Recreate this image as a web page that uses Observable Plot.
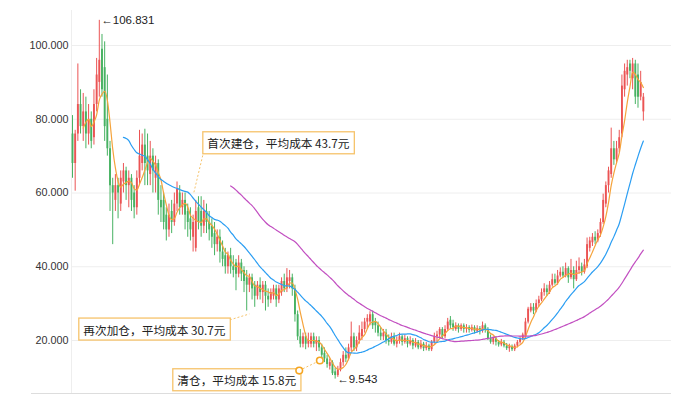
<!DOCTYPE html>
<html>
<head>
<meta charset="utf-8">
<script src="https://cdn.jsdelivr.net/npm/d3@7"></script>
<script src="https://cdn.jsdelivr.net/npm/@observablehq/plot@0.6"></script>
<style>
  html, body { margin: 0; padding: 0; background: #fff; }
  #chart svg { display: block; }
</style>
</head>
<body>
<div id="chart"></div>
<script>
// ---- data (weekly candles) ----
const open = [
  76,68,76,84,78,82,76,80,75,84,
  90,99,94,80,72,62,58,62,57,63,
  66,62,64,60,56,64,68,73,70,65,
  70,64,68,58,58,54,50,55,52,57,
  60,56,58,55,53,48,45,56,55,51,
  55,52,51,49,46,48,44,43,40,43,
  40,41,38,41,39,37,35,37,35,32,
  35,33,35,32,31,32,34,31,33,36,
  34,36,37,34,27,21,19,21,19,19,
  21,19,20,18,16.5,15,13,14,11.5,10.5,
  12,14,16,15,18,21,18,20,21,23,
  25,25,27,25,24,22,21,22,20,19.5,
  21,19,20,21,19.5,20.5,19,20,18.5,19.5,
  18,19,17.8,18.5,17.5,19.5,21,21.5,23,21,
  23,25.5,24.5,23,24,23,24,23,23.5,22.8,
  23.5,22.5,23.2,22.6,24,23,20.5,19.5,20.5,19.5,
  18.8,19.5,18.5,17.8,18.3,17.5,18.5,19.5,20.5,21,
  25,28,29,28,30,31,33,34,33,35,
  36.5,35.5,37.5,38.5,37.5,39.5,37,39,36.5,39,
  40,38.5,40,45,46.5,48,47,49,52,57,
  62,65,72,69,72,76,88,92,95,91,
  95,92,86,82
];
const high = [
  81,77,95,88,87,86,84,82,88,96.5,
  106.831,103,101,92,74,64,65,64,66,68,
  67,66,65,62,66,77,76,77.3,76,74,
  72,70,69,62,60,56,57,58,60,63,
  62,60,60,57,56,54,58,59,59,58,
  57,55,53,52,50,50,47,45,44,45,
  43,42,43,42,40,39,38,38,36,36,
  37,36,36,34,34,35,35,35,37,38,
  39.5,39,38,35,28,23,22,22,22,22,
  22,21,21,19,18,16,15,14.5,12.5,13,
  15,17,18,19,25,22,21,24,25,26,
  27,27.8,28,26,25,23.5,23,23,21.5,22,
  22,21,22,21.5,21.5,21,21,20.5,20.5,20,
  20,19.5,19.5,19,20,22,22.5,23.5,23.5,24,
  26,26.5,25.5,24.8,24.5,24.5,24.5,24.3,24,24.2,
  24,24,23.8,25,24.5,23.5,21.5,21,21,20,
  20.3,20,19.2,19,18.8,19,20,21,22,26,
  29,30,30,31,32,34,35.4,35,36,38,
  38,39,39.7,40,41,40,42,40,41.5,42.4,
  41,42,47.8,48,49,49.5,50,53,59.7,63,
  67,77.6,74,74,77,92,95,96,96,96.5,
  96,95,93,87
];
const low = [
  64,60.5,74,76,74,72,73,72,73,82,
  86,86,74,70,55,46,55,53,55,60,
  58,56,55,53,54,62,66,62,62,62,
  60,60,54,52,50,47,48,49,51,55,
  54,54,50,48,47,44,44,50,48,49,
  49,47,45,43,44,41,40,38,38,38,
  37,33.5,37,36,33,28,33,31,29,31,
  31,30,28,29,30,31,29,30,32,33,
  33,34,32,25,20,18,18,17.5,18,18,
  18,17,17,15,14,12.5,12,10.5,9.543,10,
  11.5,13,14,14.5,17,17,17,19,20,22,
  23,24,23,22,21,20,20,19,18.5,19,
  18.5,18,19,18.5,19,18,18.5,17.5,18,17.5,
  17.5,17,17.2,17,17,19,19.5,20.5,20.5,20.5,
  22.5,23,22.5,22.5,22,22.5,22,22,22,22.3,
  21.8,22,21.5,22,22,20,19,18.8,18.5,18.2,
  18.3,18,17.3,16.8,17,17,18,19,20,20.5,
  24.5,27.5,27,27.5,29,30.5,32,32,32.5,34.5,
  35,35,37,37,37,35.5,36.5,34,36,38,
  37.5,38,39.5,44,45.5,46,46.5,48,51.5,56,
  60,64,67.5,68,71,75,86,89,91,88,
  84,83,85,79.5
];
const close = [
  68,76,84,78,82,76,80,74,84,92,
  96,88,78,72,62,60,62,60,64,66,
  62,64,58,56,64,70,73,68,66,70,
  66,68,58,56,52,50,54,52,57,61,
  56,58,54,52,50,52,55,52,51,55,
  52,50,48,46,48,44,42,40,43,40,
  39,38,41,38,36,35,37,34,32,35,
  33,35,32,31,33,34,31,34,36,34,
  37,37,34,27,21,19,21,19,20,21,
  19,20,18,16,15,13.5,14,11,10.5,12,
  14,16,15,18,21,18,20,22,23,25,
  26,27,24,24,22,21,22,20,19.5,21,
  19,20,21,19.5,20.5,19,20,18.5,19.5,18,
  19,17.8,18.5,17.5,19.5,21,21.5,23,21,23,
  25,24,23.5,24,23,24,23,23.5,22.8,23.5,
  22.5,23.2,22.6,24,23,20.5,19.5,20.5,19.5,18.8,
  19.5,18.5,17.8,18.3,17.5,18.5,19.5,20.5,21.5,25,
  28.5,29,28,30,31,33,34,33,35,36.5,
  35.5,37.5,38.5,37.5,39.5,37,39,36.5,39,40,
  38.5,40.5,46,47,48,47,49,52,58,62,
  66,72,69,72,75,89,93,94,93,95,
  86,86,90,86
];
const yTicks = [20, 40, 60, 80, 100];
const maPeriods = [5, 20, 60];

// annotations: label text, label anchor (candle index, price), connector ends
const noteText = ["首次建仓，平均成本 43.7元", "再次加仓，平均成本 30.7元", "清仓，平均成本 15.8元"];
const noteLabelAt = [[50.3, 73.15], [4.03, 22.63], [39.1, 8.88]];
const noteLinks = [[48.6, 70.2, 45.3, 60.2], [58.7, 25.6, 66.0, 27.2], [84.6, 11.86, 92.3, 14.58]];
const noteDots = [[84.6, 11.86], [92.3, 14.58]];

// ---- styles ----
const UP = "#eb5454", DOWN = "#47b262";
const maColors = ["#f5a33b", "#2b9ef3", "#c24fc1"];
const NOTE = "#f6c36b";

const idx = d3.range(close.length);
const candles = idx.map(i => ({i, open: open[i], high: high[i], low: low[i], close: close[i]}));
const col = d => d.close >= d.open ? UP : DOWN;
const iMax = d3.maxIndex(high), iMin = d3.minIndex(low);

const chart = Plot.plot({
  width: 699, height: 408,
  marginLeft: 31, marginRight: 28, marginTop: 10, marginBottom: 15,
  x: {domain: [-15.3, 223.5], axis: null},
  y: {domain: [5.63, 109.5], axis: null},
  style: {fontFamily: "'Liberation Sans', Arial, sans-serif", background: "#fff"},
  marks: [
    Plot.ruleY(yTicks, {x1: -0.37, x2: 223.5, stroke: "#eeeeee", strokeWidth: 1}),
    Plot.ruleX([-0.37], {stroke: "#eeeeee"}),
    Plot.ruleY([5.63], {x1: -15.3, x2: 223.5, stroke: "#dddddd"}),
    Plot.text(yTicks, {x: -0.37, y: d => d, text: d => d.toFixed(3), textAnchor: "end", dx: -3, fontSize: 10.8, fill: "#333"}),
    Plot.ruleX(candles, {x: "i", y1: "low", y2: "high", stroke: col, strokeWidth: 1}),
    Plot.ruleX(candles, {x: "i", y1: "open", y2: "close", stroke: col, strokeWidth: 1.9}),
    ...maPeriods.map((k, j) => Plot.lineY(candles, Plot.windowY({k, anchor: "end", strict: true}, {x: "i", y: "close", stroke: maColors[j], strokeWidth: 1.2, curve: "monotone-x"}))),
    Plot.text([iMax], {x: i => i, y: i => high[i], text: i => "←" + high[i], dx: 2, textAnchor: "start", fontSize: 11.5, fill: "#222"}),
    Plot.text([iMin], {x: i => i, y: i => low[i], text: i => "←" + low[i], dx: 2, textAnchor: "start", fontSize: 11.5, fill: "#222"}),
    Plot.link(noteLinks, {x1: d => d[0], y1: d => d[1], x2: d => d[2], y2: d => d[3], stroke: NOTE, strokeWidth: 1, strokeDasharray: "2,2"}),
    Plot.text(noteText, {x: (d, i) => noteLabelAt[i][0], y: (d, i) => noteLabelAt[i][1], text: d => d, textAnchor: "start", lineAnchor: "middle", fontSize: 11.7, fill: "#222", fontFamily: "'Noto Sans CJK SC', sans-serif"}),
    Plot.dot(noteDots, {x: d => d[0], y: d => d[1], r: 3.3, stroke: "#f5a623", strokeWidth: 1.6, fill: "#fff"})
  ]
});
document.getElementById("chart").appendChild(chart);

// boxes behind annotation labels, sized from the rendered text
chart.querySelectorAll("text").forEach(t => {
  if (!noteText.includes(t.textContent)) return;
  const b = t.getBBox();
  const cy = b.y + b.height / 2;
  const r = document.createElementNS("http://www.w3.org/2000/svg", "rect");
  r.setAttribute("x", b.x - 4.5);
  r.setAttribute("y", cy - 11);
  r.setAttribute("width", b.width + 9);
  r.setAttribute("height", 22);
  r.setAttribute("fill", "#fff");
  r.setAttribute("stroke", NOTE);
  r.setAttribute("stroke-width", 1.3);
  const tr = t.getAttribute("transform");
  if (tr) r.setAttribute("transform", tr);
  t.parentNode.insertBefore(r, t);
});
</script>
</body>
</html>
